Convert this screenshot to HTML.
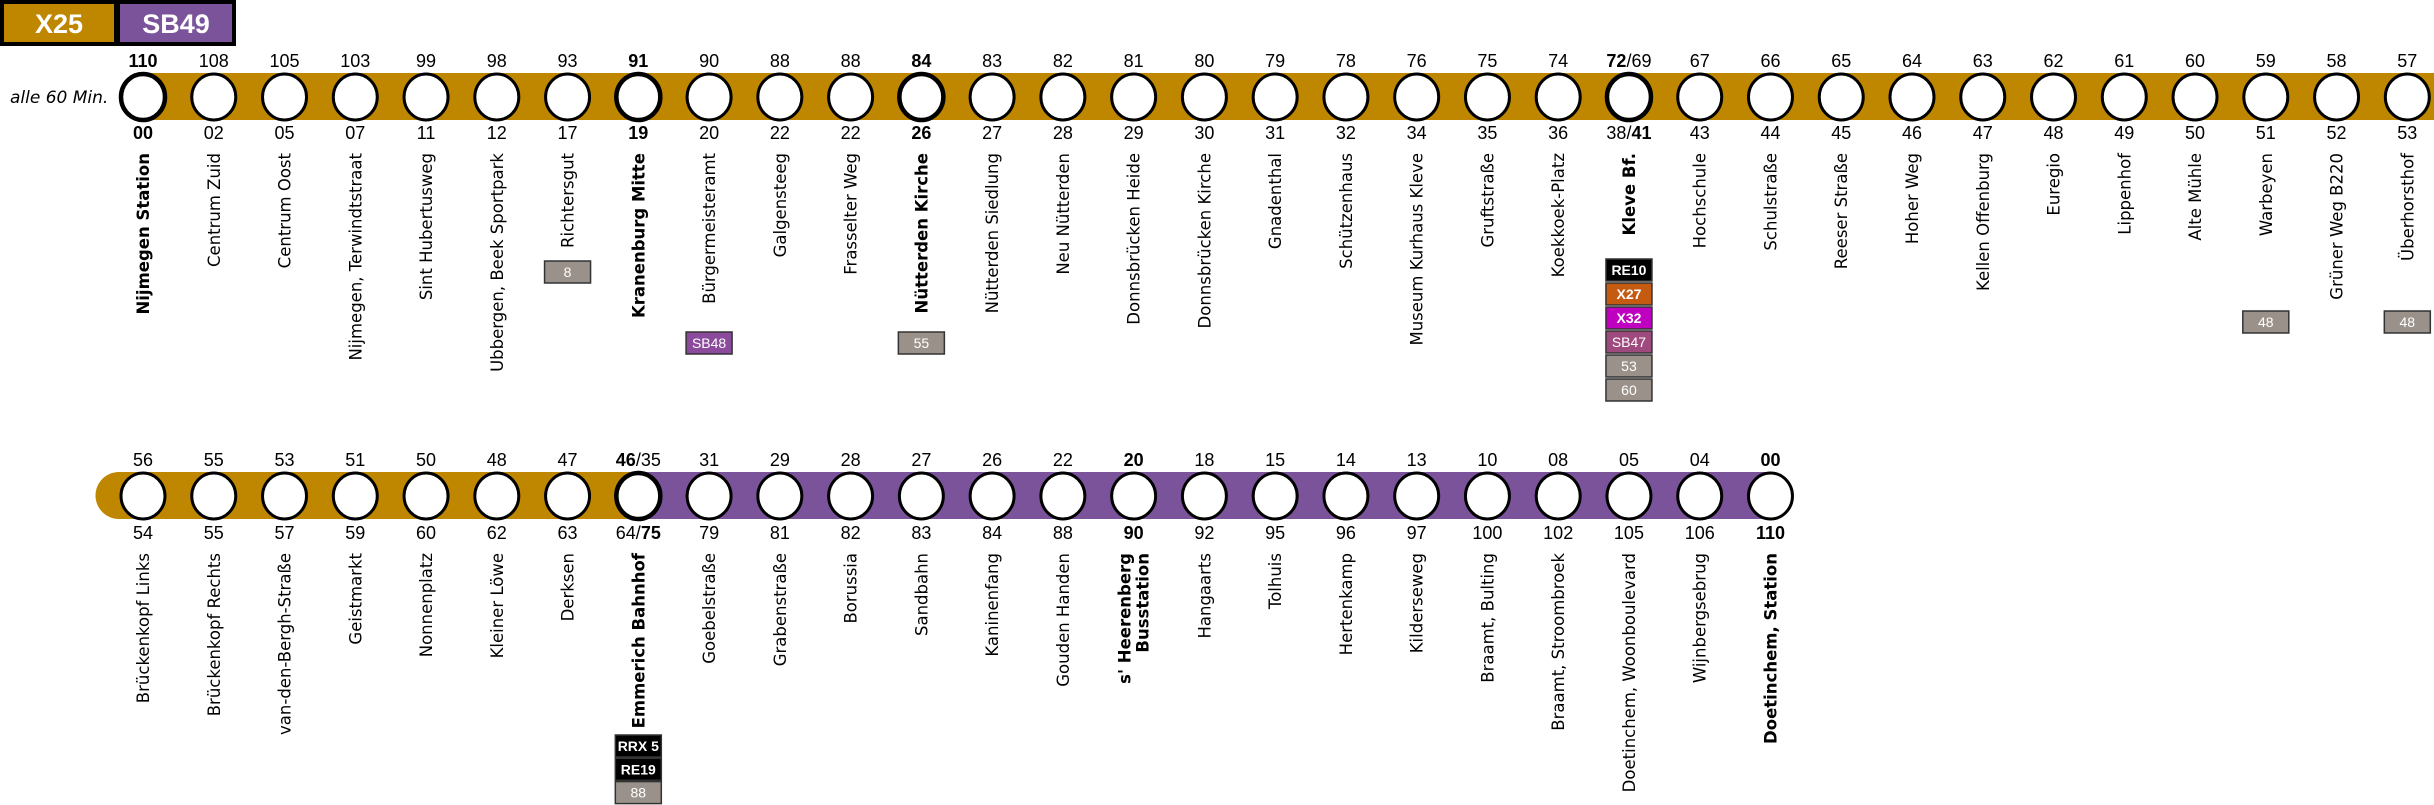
<!DOCTYPE html>
<html><head><meta charset="utf-8"><style>
html,body{margin:0;padding:0;background:#fff;}
svg{display:block;}
.n{font-family:"Liberation Sans",sans-serif;font-size:18px;fill:#000;text-anchor:middle;}
.b{font-weight:bold;}
.s{font-family:"DejaVu Sans","Liberation Sans",sans-serif;font-size:16.5px;fill:#000;text-anchor:end;}
.bx{font-family:"Liberation Sans",sans-serif;font-size:14px;fill:#fff;text-anchor:middle;}
</style></head><body>
<svg width="2434" height="805" viewBox="0 0 2434 805" xmlns="http://www.w3.org/2000/svg">
<rect x="2" y="2" width="114" height="42" fill="#bf8700" stroke="#000" stroke-width="4"/>
<rect x="118" y="2" width="116" height="42" fill="#7b539a" stroke="#000" stroke-width="4"/>
<text x="59" y="33" font-family="Liberation Sans,sans-serif" font-size="27" font-weight="bold" fill="#fff" text-anchor="middle">X25</text>
<text x="176" y="33" font-family="Liberation Sans,sans-serif" font-size="27" font-weight="bold" fill="#fff" text-anchor="middle">SB49</text>
<text x="10" y="103" font-family="DejaVu Sans,sans-serif" font-size="17" font-style="italic">alle 60 Min.</text>
<rect x="143" y="73" width="2291" height="47" fill="#bf8700"/>
<path d="M119,472 L638,472 L638,519 L119,519 A23.5,23.5 0 0 1 119,472 Z" fill="#bf8700"/>
<rect x="638" y="472" width="1133" height="47" fill="#7b539a"/>
<g id="g"></g>
</svg>
<script>
(function(){
var X=function(i){return 143+70.76*i;};
var topRow=[["110","00","Nijmegen Station",1],["108","02","Centrum Zuid"],["105","05","Centrum Oost"],["103","07","Nijmegen, Terwindtstraat"],["99","11","Sint Hubertusweg"],["98","12","Ubbergen, Beek Sportpark"],["93","17","Richtersgut"],["91","19","Kranenburg Mitte",1],["90","20","Bürgermeisteramt"],["88","22","Galgensteeg"],["88","22","Frasselter Weg"],["84","26","Nütterden Kirche",1],["83","27","Nütterden Siedlung"],["82","28","Neu Nütterden"],["81","29","Donnsbrücken Heide"],["80","30","Donnsbrücken Kirche"],["79","31","Gnadenthal"],["78","32","Schützenhaus"],["76","34","Museum Kurhaus Kleve"],["75","35","Gruftstraße"],["74","36","Koekkoek-Platz"],["<tspan font-weight='bold'>72</tspan>/69","38/<tspan font-weight='bold'>41</tspan>","Kleve Bf.",2],["67","43","Hochschule"],["66","44","Schulstraße"],["65","45","Reeser Straße"],["64","46","Hoher Weg"],["63","47","Kellen Offenburg"],["62","48","Euregio"],["61","49","Lippenhof"],["60","50","Alte Mühle"],["59","51","Warbeyen"],["58","52","Grüner Weg B220"],["57","53","Überhorsthof"]];
var botRow=[["56","54","Brückenkopf Links"],["55","55","Brückenkopf Rechts"],["53","57","van-den-Bergh-Straße"],["51","59","Geistmarkt"],["50","60","Nonnenplatz"],["48","62","Kleiner Löwe"],["47","63","Derksen"],["<tspan font-weight='bold'>46</tspan>/35","64/<tspan font-weight='bold'>75</tspan>","Emmerich Bahnhof",2],["31","79","Goebelstraße"],["29","81","Grabenstraße"],["28","82","Borussia"],["27","83","Sandbahn"],["26","84","Kaninenfang"],["22","88","Gouden Handen"],["20","90","s' Heerenberg|Busstation",3],["18","92","Hangaarts"],["15","95","Tolhuis"],["14","96","Hertenkamp"],["13","97","Kilderseweg"],["10","100","Braamt, Bulting"],["08","102","Braamt, Stroombroek"],["05","105","Doetinchem, Woonboulevard"],["04","106","Wijnbergsebrug"],["00","110","Doetinchem, Station",4]];
var h="";
function row(list,cy,ty,by,ny){
list.forEach(function(s,i){var x=X(i);var f=s[3];
var thick=(f===1||f===2);var bn=(f===1||f===3||f===4)?" b":"";
h+='<ellipse cx="'+x+'" cy="'+cy+'" rx="22" ry="23" fill="#fff" stroke="#000" stroke-width="'+(thick?4.5:3)+'"/>';
h+='<text class="n'+bn+'" x="'+x+'" y="'+ty+'">'+s[0]+'</text>';
h+='<text class="n'+bn+'" x="'+x+'" y="'+by+'">'+s[1]+'</text>';
var nb=f?" b":"";var parts=s[2].split("|");
if(parts.length==1){h+='<text class="s'+nb+'" transform="translate('+(x+6)+','+ny+') rotate(-90)">'+parts[0]+'</text>';}
else{h+='<text class="s'+nb+'" transform="translate('+(x-3)+','+ny+') rotate(-90)">'+parts[0]+'</text><text class="s'+nb+'" transform="translate('+(x+15)+','+ny+') rotate(-90)">'+parts[1]+'</text>';}
});}
row(topRow,97,67,139,153);
row(botRow,496,466,539,553);
function box(i,y,t,c,bold){var x=X(i);h+='<rect x="'+(x-23)+'" y="'+y+'" width="46" height="22" fill="'+c+'" stroke="#333" stroke-width="1.5"/><text class="bx" x="'+x+'" y="'+(y+16)+'" '+(bold?'font-weight="bold"':'')+'>'+t+'</text>';}
box(6,261,"8","#9a918a");
box(8,332,"SB48","#8b4a9c");
box(11,332,"55","#9a918a");
[["RE10","#000",1],["X27","#c55a11",1],["X32","#c000c0",1],["SB47","#9e4a7e"],["53","#9a918a"],["60","#9a918a"]].forEach(function(b,k){box(21,259+k*24,b[0],b[1],b[2]);});
box(30,311,"48","#9a918a");
box(32,311,"48","#9a918a");
[["RRX 5","#000",1],["RE19","#000",1],["88","#9a918a"]].forEach(function(b,k){box(7,735+k*23.3,b[0],b[1],b[2]);});
document.getElementById("g").innerHTML=h;
})();
</script>
</body></html>
